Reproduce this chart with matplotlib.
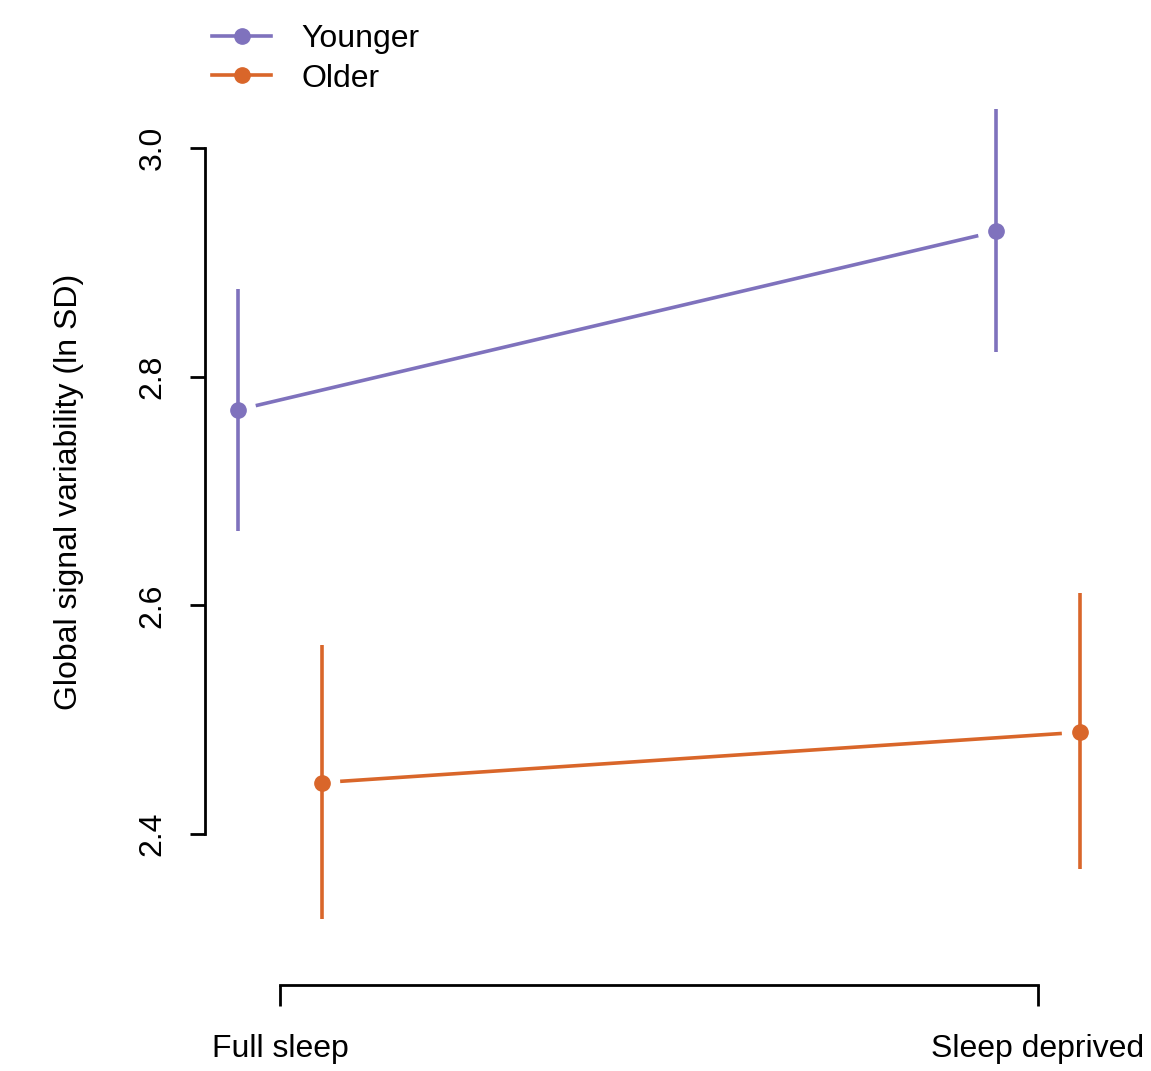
import numpy as np
import matplotlib.pyplot as plt

# values
conditions = ['Full sleep', 'Sleep deprived']
groups = ['Younger', 'Older']
younger_mean = [2.771, 2.927]
younger_lo = [2.665, 2.822]
younger_hi = [2.877, 3.034]
older_mean = [2.445, 2.489]
older_lo = [2.326, 2.369]
older_hi = [2.565, 2.611]

colors = {'Younger': '#7f72bd', 'Older': '#d9662a'}
dodge = {'Younger': -0.0554, 'Older': 0.0554}

plt.rcParams['font.family'] = ['Liberation Sans', 'DejaVu Sans']
fs = 23

fig = plt.figure(figsize=(11.51, 10.71), dpi=100)
W, H = 1151, 1071
ax = fig.add_axes([205 / W, 1 - 985 / H, (1110 - 205) / W, (985 - 100) / H])
ax.set_xlim(1 - 75 / 758, 1 + 830 / 758)
ax.set_ylim(2.4 - 151 / 1143.35, 2.4 + 734 / 1143.35)

lw = 2.6
xbase = np.arange(1, len(conditions) + 1)
data = {'Younger': (younger_mean, younger_lo, younger_hi),
        'Older': (older_mean, older_lo, older_hi)}

handles = []
for g in groups:
    m, lo, hi = data[g]
    x = xbase + dodge[g]
    c = colors[g]
    ax.vlines(x, lo, hi, color=c, lw=lw, zorder=2)
    ax.plot(x, m, 'o', color=c, ms=11, zorder=3)
    # connecting line with a gap around the points (R type="b")
    p = ax.transData.transform(np.column_stack([x, m]))
    d = p[1] - p[0]
    u = d / np.hypot(*d)
    gap = 20
    q = np.array([p[0] + u * gap, p[1] - u * gap])
    qd = ax.transData.inverted().transform(q)
    ax.plot(qd[:, 0], qd[:, 1], color=c, lw=lw, zorder=2)
    h, = ax.plot([], [], '-o', color=c, lw=lw, ms=11, label=g)
    handles.append(h)

for s in ['top', 'right']:
    ax.spines[s].set_visible(False)
ax.spines['left'].set_bounds(2.4, 3.0)
ax.spines['bottom'].set_bounds(1, 2)
ax.spines['left'].set_linewidth(2)
ax.spines['bottom'].set_linewidth(2)

ax.set_yticks([2.4, 2.6, 2.8, 3.0])
ax.set_yticklabels(['2.4', '2.6', '2.8', '3.0'], rotation=90, va='center', fontsize=fs)
ax.set_xticks(xbase)
ax.set_xticklabels(conditions, fontsize=fs)
ax.tick_params(axis='y', length=11, width=2, pad=16)
ax.tick_params(axis='x', length=15, width=2, pad=20)
ax.set_ylabel('Global signal variability (ln SD)', fontsize=fs)
ax.yaxis.set_label_coords((84 - 205) / 905, (985 - 492) / 885)

fig.legend(handles=handles, loc='upper left', bbox_to_anchor=(212 / W, 1 - 24 / H),
           frameon=False, fontsize=fs, handlelength=1.85, handletextpad=0.95,
           labelspacing=0.3, borderpad=0, borderaxespad=0)

fig.savefig('out.png', dpi=100)
